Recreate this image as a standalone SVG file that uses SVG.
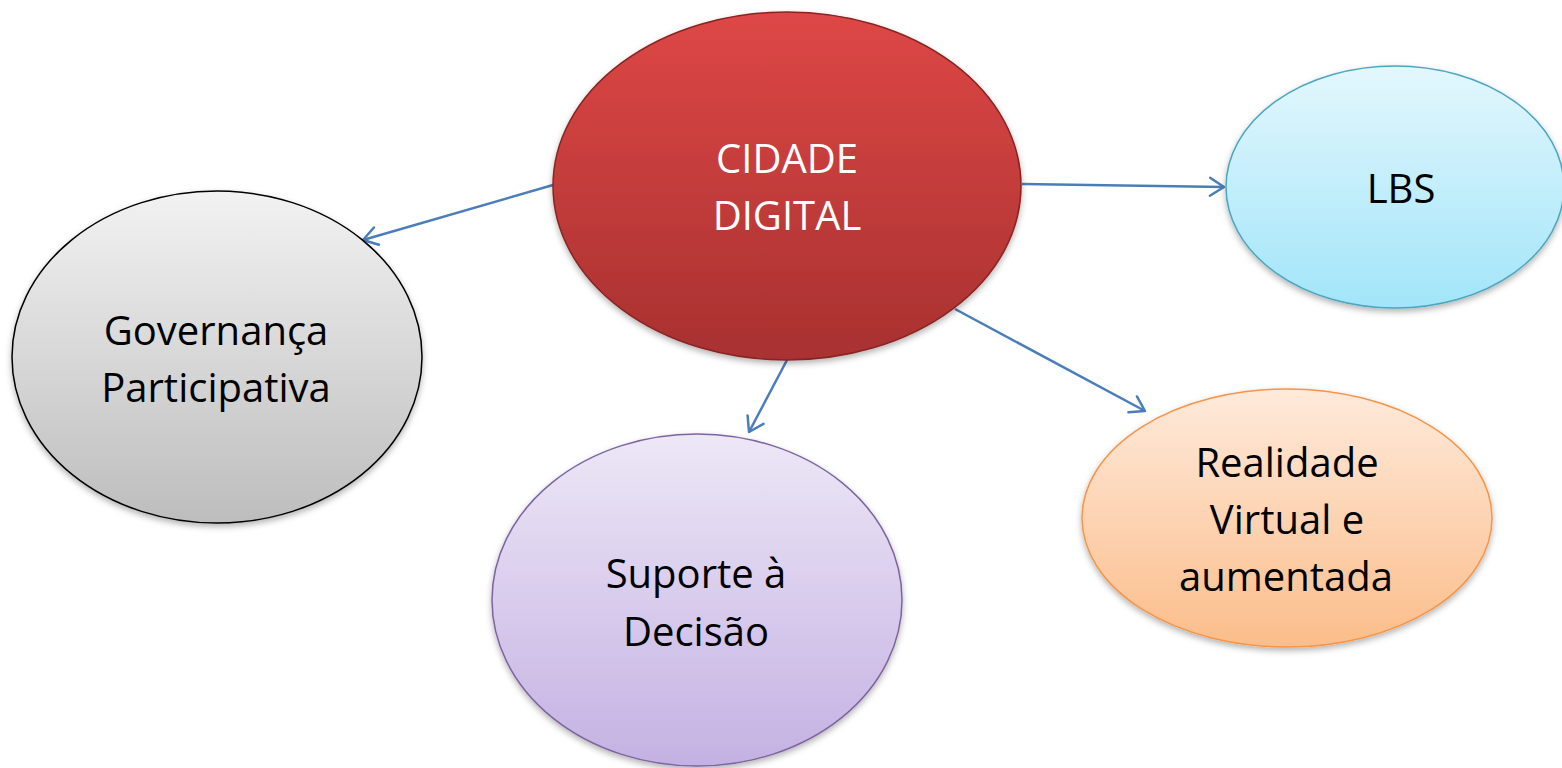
<svg xmlns="http://www.w3.org/2000/svg" width="1562" height="768" viewBox="0 0 1562 768">
<defs>
<linearGradient id="gRed" x1="0" y1="0" x2="0" y2="1"><stop offset="0" stop-color="#DE4746"/><stop offset="1" stop-color="#A83130"/></linearGradient>
<linearGradient id="gBlue" x1="0" y1="0" x2="0" y2="1"><stop offset="0" stop-color="#E3F7FD"/><stop offset="1" stop-color="#A2E5F9"/></linearGradient>
<linearGradient id="gGray" x1="0" y1="0" x2="0" y2="1"><stop offset="0" stop-color="#F2F2F2"/><stop offset="1" stop-color="#BDBDBD"/></linearGradient>
<linearGradient id="gPurple" x1="0" y1="0" x2="0" y2="1"><stop offset="0" stop-color="#EDE7F6"/><stop offset="1" stop-color="#C4B1E3"/></linearGradient>
<linearGradient id="gOrange" x1="0" y1="0" x2="0" y2="1"><stop offset="0" stop-color="#FEEADB"/><stop offset="1" stop-color="#FBBD8A"/></linearGradient>
<filter id="shadow" x="-10%" y="-10%" width="120%" height="125%"><feDropShadow dx="0" dy="3" stdDeviation="3" flood-color="#000" flood-opacity="0.3"/></filter>
<marker id="arrow" markerUnits="userSpaceOnUse" markerWidth="30" markerHeight="30" viewBox="0 0 30 30" refX="22" refY="15" orient="auto"><path d="M8,6 L22,15 L8,24" fill="none" stroke="#4A7EBB" stroke-width="2.5" stroke-linecap="round" stroke-linejoin="round"/></marker>
</defs>
<style>
.lbl{font-family:"Open Sans","Noto Sans","Liberation Sans",sans-serif;font-size:40px;text-anchor:middle;fill:#000}
.white{fill:#fff}
.edge{fill:none;stroke:#4A7EBB;stroke-width:2.5;marker-end:url(#arrow)}
</style>
<rect width="1562" height="768" fill="#fff"/>
<g id="connectors">
<line class="edge" x1="553" y1="185" x2="363" y2="240"/>
<line class="edge" x1="1022" y1="184" x2="1224" y2="187"/>
<line class="edge" x1="787" y1="360" x2="749" y2="432"/>
<line class="edge" x1="955" y1="309" x2="1145" y2="411"/>
</g>
<g id="node-cidade">
<ellipse cx="787" cy="186" rx="234" ry="174" fill="url(#gRed)" stroke="#8A2423" stroke-width="1.5" filter="url(#shadow)"/>
<text class="lbl white" x="787" y="173">CIDADE</text>
<text class="lbl white" x="787" y="230">DIGITAL</text>
</g>
<g id="node-lbs">
<ellipse cx="1395" cy="187" rx="169" ry="121" fill="url(#gBlue)" stroke="#4BA6C2" stroke-width="1.5" filter="url(#shadow)"/>
<text class="lbl" x="1401" y="203">LBS</text>
</g>
<g id="node-governanca">
<ellipse cx="217" cy="357" rx="205" ry="166" fill="url(#gGray)" stroke="#000" stroke-width="1.5" filter="url(#shadow)"/>
<text class="lbl" x="216" y="345">Governança</text>
<text class="lbl" x="216" y="402">Participativa</text>
</g>
<g id="node-suporte">
<ellipse cx="697" cy="600" rx="205" ry="166" fill="url(#gPurple)" stroke="#7E63A1" stroke-width="1.5" filter="url(#shadow)"/>
<text class="lbl" x="696" y="588">Suporte à</text>
<text class="lbl" x="696" y="646">Decisão</text>
</g>
<g id="node-realidade">
<ellipse cx="1287" cy="518" rx="205" ry="129" fill="url(#gOrange)" stroke="#F69546" stroke-width="1.5" filter="url(#shadow)"/>
<text class="lbl" x="1287" y="477">Realidade</text>
<text class="lbl" x="1287" y="534">Virtual e</text>
<text class="lbl" x="1286" y="591">aumentada</text>
</g>
</svg>
